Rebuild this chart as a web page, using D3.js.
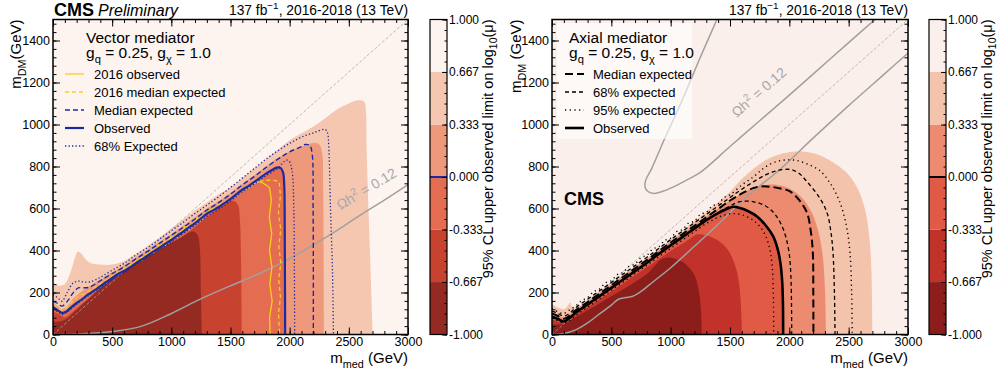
<!DOCTYPE html>
<html>
<head>
<meta charset="utf-8">
<script src="https://cdn.jsdelivr.net/npm/d3@7"></script>
<style>
body { margin: 0; background: #fff; }
</style>
</head>
<body>
<div id="chart"></div>
<script>
// ---- axis values ----
const medTicks = [0, 500, 1000, 1500, 2000, 2500, 3000];
const dmTicks = [0, 200, 400, 600, 800, 1000, 1200, 1400];
const zTicks = [-1, -0.667, -0.333, 0, 0.333, 0.667, 1];

// colour bins, lowest level first
const vecColors = ['#952a22', '#c8432f', '#e46c50', '#ef997c', '#f5c6b0', '#fdf4f0'];
const axColors = ['#8b1e1b', '#c1322b', '#e15a45', '#ed8b70', '#f3c3ab', '#fbefec'];

// ---- vector mediator: filled contour tops [m_med, m_DM] ----
const vecFill0667 = [[0,245],[50,232],[100,240],[150,300],[185,365],[210,395],[240,385],[280,355],[330,338],[400,333],[500,333],[600,350],[700,385],[800,422],[900,462],[1000,505],[1100,548],[1200,590],[1300,630],[1400,668],[1500,700],[1600,745],[1700,790],[1800,835],[1900,880],[2000,925],[2100,958],[2200,990],[2300,1030],[2400,1072],[2500,1100],[2580,1115],[2630,1108],[2645,1060],[2650,900],[2660,700],[2675,450],[2690,200],[2700,0]];
const vecFill0333 = [[0,150],[40,135],[75,122],[120,135],[170,170],[220,195],[300,228],[400,262],[500,298],[600,330],[700,368],[800,405],[900,442],[1000,478],[1100,518],[1200,558],[1300,600],[1400,636],[1500,675],[1600,718],[1700,758],[1800,800],[1900,840],[2000,872],[2100,895],[2200,912],[2250,905],[2275,860],[2283,700],[2287,400],[2290,0]];
const vecFillM0333 = [[0,108],[50,95],[100,82],[150,100],[200,125],[300,170],[400,210],[500,250],[600,282],[700,320],[800,358],[900,395],[1000,430],[1100,470],[1200,512],[1300,560],[1400,600],[1480,632],[1530,636],[1565,615],[1580,540],[1588,400],[1595,0]];
const vecFillM0667 = [[0,60],[50,62],[100,70],[200,118],[300,170],[400,222],[500,265],[600,300],[700,338],[800,375],[900,408],[1000,438],[1100,468],[1150,486],[1190,490],[1225,470],[1242,400],[1250,200],[1257,0]];

// ---- vector mediator: limit lines ----
const vecObs = [[0,132],[40,115],[75,103],[110,108],[150,128],[200,150],[250,170],[300,192],[350,210],[400,230],[450,250],[500,270],[550,288],[600,302],[650,320],[700,340],[750,357],[800,377],[850,396],[900,414],[950,432],[1000,450],[1050,470],[1100,490],[1150,510],[1200,530],[1250,552],[1300,575],[1350,590],[1400,607],[1450,626],[1500,646],[1550,668],[1600,690],[1650,706],[1700,726],[1750,746],[1800,766],[1850,783],[1890,795],[1925,792],[1945,770],[1955,700],[1958,550],[1960,300],[1962,0]];
const vecExp = [[0,158],[40,148],[75,135],[130,165],[170,198],[214,222],[260,222],[313,226],[400,256],[500,290],[600,322],[700,360],[800,396],[900,434],[1000,472],[1100,510],[1200,550],[1300,592],[1400,628],[1500,668],[1600,712],[1700,752],[1800,795],[1900,835],[2000,870],[2100,895],[2130,905],[2170,900],[2190,860],[2198,600],[2200,300],[2200,0]];
const vec68Up = [[0,190],[40,175],[75,158],[120,200],[170,245],[214,254],[260,250],[313,250],[400,272],[500,306],[600,338],[700,378],[800,414],[900,454],[1000,494],[1100,534],[1200,576],[1300,616],[1400,656],[1500,700],[1600,745],[1700,790],[1800,835],[1900,875],[2000,910],[2100,940],[2200,960],[2300,976],[2320,960],[2330,900],[2345,600],[2362,300],[2370,0]];
const vec68Dn = [[0,120],[40,108],[75,95],[150,120],[200,145],[300,185],[400,222],[500,262],[600,292],[700,332],[800,368],[900,405],[1000,440],[1100,480],[1200,520],[1300,562],[1400,596],[1500,636],[1600,680],[1700,716],[1800,756],[1900,792],[1970,830],[1995,826],[2020,780],[2035,600],[2040,300],[2042,0]];
const vec16Obs = [[0,125],[40,112],[80,100],[120,110],[160,135],[200,150],[250,168],[300,195],[350,205],[400,235],[450,245],[500,278],[550,285],[600,312],[650,318],[700,350],[750,352],[800,388],[850,390],[900,425],[950,425],[1000,462],[1050,462],[1100,502],[1150,500],[1200,540],[1250,545],[1300,585],[1350,588],[1400,612],[1450,622],[1500,650],[1550,662],[1600,690],[1650,698],[1700,720],[1740,728],[1770,722],[1800,712],[1830,700],[1845,640],[1828,560],[1848,480],[1830,400],[1850,320],[1832,240],[1852,160],[1830,80],[1835,0]];
const vec16Exp = [[0,140],[40,128],[80,115],[120,130],[170,160],[220,185],[270,195],[320,215],[370,230],[420,250],[470,265],[520,290],[570,300],[620,325],[670,335],[720,360],[770,372],[820,400],[870,410],[920,438],[970,445],[1020,478],[1070,485],[1120,515],[1170,522],[1220,555],[1270,562],[1320,595],[1370,602],[1420,625],[1470,637],[1520,662],[1570,675],[1620,700],[1670,712],[1720,726],[1790,734],[1860,735],[1912,728],[1922,660],[1905,580],[1925,500],[1908,420],[1925,340],[1908,260],[1922,180],[1906,100],[1915,0]];
const vecRelic = [[0,0],[250,3],[500,14],[750,40],[1000,100],[1240,167],[1500,232],[1665,271],[1800,305],[1960,349],[2150,410],[2370,485],[2600,570],[2800,640],[3000,714]];

// ---- axial mediator: filled contour tops ----
const axFill0667 = [[0,143],[50,128],[100,120],[130,135],[152,152],[175,128],[220,132],[300,165],[400,205],[500,245],[600,285],[700,325],[800,365],[900,407],[1000,450],[1100,495],[1200,540],[1300,585],[1400,630],[1500,680],[1600,740],[1700,790],[1800,830],[1900,855],[2000,868],[2115,872],[2250,855],[2380,815],[2500,760],[2580,690],[2640,590],[2675,460],[2692,300],[2700,0]];
const axFill0333 = [[0,105],[50,92],[100,80],[150,95],[200,118],[300,158],[400,198],[500,238],[600,278],[700,318],[800,358],[900,400],[1000,442],[1100,482],[1200,522],[1300,562],[1400,600],[1500,638],[1600,672],[1700,700],[1800,712],[1900,712],[2000,695],[2100,655],[2180,590],[2240,500],[2280,380],[2300,220],[2308,0]];
const axFillM0333 = [[0,72],[50,62],[100,55],[150,68],[200,92],[300,130],[400,168],[500,205],[600,243],[700,282],[800,320],[900,360],[1000,398],[1100,433],[1160,455],[1220,476],[1300,472],[1400,448],[1480,405],[1540,335],[1575,250],[1593,130],[1600,0]];
const axFillM0667 = [[0,48],[100,50],[200,82],[300,115],[400,148],[500,182],[600,215],[700,250],[800,288],[870,330],[920,358],[970,366],[1030,362],[1100,345],[1150,322],[1200,283],[1235,215],[1255,120],[1262,0]];

// ---- axial mediator: limit lines ----
const axObs = [[0,85],[50,74],[100,62],[150,80],[200,104],[300,143],[400,183],[500,222],[600,262],[700,302],[800,342],[900,384],[1000,425],[1100,465],[1200,505],[1300,545],[1400,578],[1480,600],[1530,608],[1584,602],[1650,588],[1728,562],[1800,520],[1864,467],[1900,410],[1925,340],[1940,250],[1946,150],[1948,0]];
const axExp = [[0,100],[50,88],[100,75],[150,90],[200,115],[300,155],[400,195],[500,235],[600,275],[700,315],[800,355],[900,397],[1000,438],[1100,478],[1200,518],[1300,558],[1400,598],[1500,638],[1600,672],[1700,698],[1760,705],[1850,703],[1950,692],[2005,682],[2080,642],[2148,581],[2180,495],[2198,390],[2202,200],[2203,0]];
const ax68Up = [[0,112],[50,100],[100,88],[150,102],[200,128],[300,168],[400,208],[500,248],[600,288],[700,328],[800,368],[900,410],[1000,452],[1100,492],[1200,532],[1300,572],[1400,612],[1500,652],[1600,692],[1700,728],[1800,760],[1900,780],[2005,786],[2080,768],[2148,728],[2250,655],[2317,581],[2350,490],[2368,390],[2380,200],[2385,0]];
const ax68Dn = [[0,88],[50,76],[100,64],[150,76],[200,100],[300,140],[400,180],[500,220],[600,260],[700,300],[800,340],[900,382],[1000,422],[1100,462],[1200,502],[1300,542],[1400,580],[1500,612],[1584,633],[1700,632],[1800,612],[1880,572],[1950,500],[1995,400],[2013,280],[2020,0]];
const ax95Up = [[0,125],[50,108],[100,100],[150,118],[200,136],[250,162],[300,176],[350,204],[400,216],[450,246],[500,256],[550,285],[600,296],[650,325],[700,336],[750,366],[800,378],[850,408],[900,418],[950,448],[1000,458],[1050,490],[1100,500],[1150,530],[1200,540],[1250,572],[1300,582],[1350,612],[1400,622],[1450,652],[1500,665],[1600,712],[1700,752],[1780,790],[1862,818],[1950,830],[2050,830],[2150,812],[2258,780],[2350,715],[2427,628],[2480,520],[2511,390],[2525,200],[2530,0]];
const ax95Dn = [[0,78],[50,65],[100,55],[150,66],[200,90],[300,130],[400,170],[500,210],[600,250],[700,290],[800,330],[900,370],[1000,410],[1100,450],[1200,490],[1300,528],[1400,558],[1500,575],[1600,570],[1700,542],[1780,492],[1830,420],[1855,330],[1865,200],[1868,0]];
const axRelicLow = [[0,0],[100,5],[200,22],[300,55],[400,98],[500,140],[560,168],[620,176],[680,182],[750,205],[850,250],[1000,318],[1200,420],[1400,525],[1584,628],[1700,685],[1921,786],[2200,935],[2500,1090],[2800,1240],[3000,1340]];
const axRelicUp = [[1390,1500],[1250,1320],[1100,1120],[935,914],[840,790],[790,735],[785,700],[810,680],[860,672],[950,685],[1050,710],[1150,740],[1250,772],[1500,895],[1750,1018],[2000,1140],[2250,1265],[2500,1390],[2722,1500]];

const FONT = '"Liberation Sans", Arial, Helvetica, sans-serif';
const BLUE = '#1c2a9e';
const YEL = '#f6cf1a';

const styles = {
  y16obs: {stroke: YEL, width: 1.3, dash: null},
  y16exp: {stroke: YEL, width: 1.3, dash: '4,3'},
  bexp:   {stroke: BLUE, width: 1.4, dash: '5,3'},
  bobs:   {stroke: BLUE, width: 2.2, dash: null},
  b68:    {stroke: BLUE, width: 1.3, dash: '1.3,2.2'},
  kexp:   {stroke: '#000', width: 2, dash: '8,4'},
  k68:    {stroke: '#000', width: 1.3, dash: '4,3'},
  k95:    {stroke: '#000', width: 1.4, dash: '1.2,3.5'},
  kobs:   {stroke: '#000', width: 2.6, dash: null}
};

const svg = d3.select('#chart').append('svg')
  .attr('width', 1000).attr('height', 374)
  .style('font-family', FONT);

// text with sub / superscript pieces
function rich(sel, parts, size) {
  let cur = 0;
  parts.forEach(([t, k]) => {
    let target = 0, fs = size;
    if (k === 'sub') { target = size * 0.3; fs = size * 0.72; }
    if (k === 'sup') { target = -size * 0.4; fs = size * 0.72; }
    sel.append('tspan').attr('dy', target - cur).attr('font-size', fs).text(t);
    cur = target;
  });
}

function drawPanel(p) {
  const x = d3.scaleLinear().domain([0, 3000]).range([p.x0, p.x1]);
  const y = d3.scaleLinear().domain([0, 1500]).range([334.5, 19.5]);
  const z = d3.scaleLinear().domain([-1, 1]).range([334.5, 19.5]);
  const g = svg.append('g');

  svg.append('clipPath').attr('id', 'clip' + p.id).append('rect')
    .attr('x', p.x0).attr('y', y(1500)).attr('width', p.x1 - p.x0).attr('height', y(0) - y(1500));
  const plot = g.append('g').attr('clip-path', `url(#clip${p.id})`);

  const smooth = d3.line().x(d => x(d[0])).y(d => y(d[1])).curve(d3.curveCatmullRom.alpha(0.5));
  const straight = d3.line().x(d => x(d[0])).y(d => y(d[1]));

  plot.append('rect').attr('x', p.x0).attr('y', y(1500))
    .attr('width', p.x1 - p.x0).attr('height', y(0) - y(1500)).attr('fill', p.colors[5]);

  // filled levels, lightest first
  p.fills.forEach(([pts, ci]) => {
    const ext = [[-100, pts[0][1]], ...pts, [pts[pts.length - 1][0], -100]];
    plot.append('path')
      .attr('d', smooth(ext) + `L${x(-100)},${y(-100)}Z`)
      .attr('fill', p.colors[ci]);
  });

  // diagonal m_DM = m_med / 2
  plot.append('path').attr('d', straight([[0, 0], [3000, 1500]]))
    .attr('stroke', '#a8a8a8').attr('stroke-width', 0.8).attr('stroke-dasharray', '3,2').attr('fill', 'none');

  // relic lines
  p.relic.forEach(r => {
    plot.append('path').attr('d', smooth(r)).attr('fill', 'none')
      .attr('stroke', '#a0a0a0').attr('stroke-width', 1.5);
  });

  // limit lines
  p.lines.forEach(([pts, key, curved]) => {
    const s = styles[key];
    plot.append('path').attr('d', (curved ? smooth : straight)(pts)).attr('fill', 'none')
      .attr('stroke', s.stroke).attr('stroke-width', s.width)
      .attr('stroke-dasharray', s.dash);
  });

  // relic label
  const rl = plot.append('text')
    .attr('transform', `translate(${p.relicLabel[0]},${p.relicLabel[1]}) rotate(${p.relicLabel[2]})`)
    .attr('text-anchor', 'middle').attr('fill', '#a8a8a8').attr('font-size', 14);
  rich(rl, [['Ωh', null], ['2', 'sup'], [' = 0.12', null]], 14);

  // legend
  if (p.legendBox) {
    g.append('rect').attr('x', p.legendBox[0]).attr('y', p.legendBox[1])
      .attr('width', p.legendBox[2]).attr('height', p.legendBox[3])
      .attr('fill', '#ffffff').attr('opacity', 0.6);
  }
  g.append('text').attr('x', p.legX).attr('y', 43).attr('font-size', 15.5).text(p.title);
  const gl = g.append('text').attr('x', p.legX).attr('y', 58).attr('font-size', 15.5);
  rich(gl, [['g', null], ['q', 'sub'], [' = 0.25, g', null], ['χ', 'sub'], [' = 1.0', null]], 15.5);
  p.legend.forEach(([label, key], i) => {
    const yy = 74 + i * 18;
    const s = styles[key];
    g.append('line').attr('x1', p.legLineX).attr('x2', p.legLineX + 19).attr('y1', yy).attr('y2', yy)
      .attr('stroke', s.stroke).attr('stroke-width', s.width).attr('stroke-dasharray', s.dash);
    g.append('text').attr('x', p.legTextX).attr('y', yy + 4.5).attr('font-size', 13).text(label);
  });

  // axes with inward ticks
  const axisStyle = sel => sel.call(s => s.select('.domain').remove())
    .attr('font-size', 12.5).attr('font-family', FONT);
  g.append('g').attr('transform', `translate(0,${y(0)})`)
    .call(d3.axisBottom(x).tickValues(d3.range(0, 3001, 100)).tickSize(-3.5).tickFormat(''))
    .call(axisStyle);
  g.append('g').attr('transform', `translate(0,${y(0)})`)
    .call(d3.axisBottom(x).tickValues(medTicks).tickSize(-7).tickPadding(3).tickFormat(d3.format('d')))
    .call(axisStyle);
  g.append('g').attr('transform', `translate(0,${y(1500)})`)
    .call(d3.axisTop(x).tickValues(d3.range(0, 3001, 100)).tickSize(-3.5).tickFormat(''))
    .call(axisStyle);
  g.append('g').attr('transform', `translate(0,${y(1500)})`)
    .call(d3.axisTop(x).tickValues(medTicks).tickSize(-7).tickFormat(''))
    .call(axisStyle);
  g.append('g').attr('transform', `translate(${p.x0},0)`)
    .call(d3.axisLeft(y).tickValues(d3.range(0, 1501, 40)).tickSize(-3.5).tickFormat(''))
    .call(axisStyle);
  g.append('g').attr('transform', `translate(${p.x0},0)`)
    .call(d3.axisLeft(y).tickValues(dmTicks).tickSize(-7).tickPadding(3).tickFormat(d3.format('d')))
    .call(axisStyle);
  g.append('g').attr('transform', `translate(${p.x1},0)`)
    .call(d3.axisRight(y).tickValues(d3.range(0, 1501, 40)).tickSize(-3.5).tickFormat(''))
    .call(axisStyle);
  g.append('g').attr('transform', `translate(${p.x1},0)`)
    .call(d3.axisRight(y).tickValues(dmTicks).tickSize(-7).tickFormat(''))
    .call(axisStyle);

  g.append('rect').attr('x', p.x0).attr('y', y(1500)).attr('width', p.x1 - p.x0)
    .attr('height', y(0) - y(1500)).attr('fill', 'none').attr('stroke', '#000').attr('stroke-width', 1.5);

  // axis titles
  const xt = g.append('text').attr('x', p.x1).attr('y', 363).attr('text-anchor', 'end').attr('font-size', 15);
  rich(xt, [['m', null], ['med', 'sub'], [' (GeV)', null]], 15);
  const yt = g.append('text').attr('transform', `translate(${p.yTitleX},${y(1500)}) rotate(-90)`)
    .attr('text-anchor', 'end').attr('font-size', 15);
  rich(yt, [['m', null], ['DM', 'sub'], [p.yTitleGap + '(GeV)', null]], 15);

  // colour bar
  const cb = g.append('g');
  for (let i = 0; i < 6; i++) {
    cb.append('rect').attr('x', p.cb0).attr('width', p.cb1 - p.cb0)
      .attr('y', z(zTicks[i + 1])).attr('height', z(zTicks[i]) - z(zTicks[i + 1]))
      .attr('fill', p.colors[i]);
  }
  cb.append('line').attr('x1', p.cb0).attr('x2', p.cb1).attr('y1', z(0)).attr('y2', z(0))
    .attr('stroke', p.obsColor).attr('stroke-width', 2);
  cb.append('g').attr('transform', `translate(${p.cb1},0)`)
    .call(d3.axisRight(z).tickValues(d3.range(-1, 1.0001, 2 / 30)).tickSize(-2.5).tickFormat(''))
    .call(axisStyle);
  cb.append('g').attr('transform', `translate(${p.cb1},0)`)
    .call(d3.axisRight(z).tickValues(zTicks).tickSize(-5).tickPadding(2).tickFormat(d => d.toFixed(3)))
    .call(axisStyle).attr('font-size', 12);
  cb.append('rect').attr('x', p.cb0).attr('y', z(1)).attr('width', p.cb1 - p.cb0)
    .attr('height', z(-1) - z(1)).attr('fill', 'none').attr('stroke', '#000').attr('stroke-width', 1.2);
  const ct = g.append('text').attr('transform', `translate(${p.cb1 + 46},${z(1)}) rotate(-90)`)
    .attr('text-anchor', 'end').attr('font-size', 14.5);
  rich(ct, [['95% CL upper observed limit on log', null], ['10', 'sub'], ['(μ)', null]], 14.5);

  // header
  const hd = g.append('text').attr('x', p.x1).attr('y', 15).attr('text-anchor', 'end').attr('font-size', 13.8);
  rich(hd, [['137 fb', null], ['−1', 'sup'], [', 2016-2018 (13 TeV)', null]], 13.8);
}

drawPanel({
  id: 'vec', x0: 53, x1: 408, cb0: 430, cb1: 447, colors: vecColors, obsColor: BLUE,
  fills: [[vecFill0667, 4], [vecFill0333, 3], [vecObs, 2], [vecFillM0333, 1], [vecFillM0667, 0]],
  relic: [vecRelic],
  relicLabel: [369, 193, -31],
  lines: [[vec16Exp, 'y16exp', false], [vec16Obs, 'y16obs', false], [vec68Up, 'b68', true],
          [vec68Dn, 'b68', true], [vecExp, 'bexp', true], [vecObs, 'bobs', true]],
  title: 'Vector mediator', legX: 86, legLineX: 65, legTextX: 94, legendBox: null,
  legend: [['2016 observed', 'y16obs'], ['2016 median expected', 'y16exp'],
           ['Median expected', 'bexp'], ['Observed', 'bobs'], ['68% Expected', 'b68']],
  yTitleX: 21, yTitleGap: ''
});

drawPanel({
  id: 'ax', x0: 552, x1: 908, cb0: 929, cb1: 946, colors: axColors, obsColor: '#000',
  fills: [[axFill0667, 4], [axFill0333, 3], [axObs, 2], [axFillM0333, 1], [axFillM0667, 0]],
  relic: [axRelicLow, axRelicUp],
  relicLabel: [762, 96, -41],
  lines: [[ax95Up, 'k95', true], [ax95Dn, 'k95', true], [ax68Up, 'k68', true],
          [ax68Dn, 'k68', true], [axExp, 'kexp', true], [axObs, 'kobs', true]],
  title: 'Axial mediator', legX: 569, legLineX: 565, legTextX: 593, legendBox: [557, 23, 135, 116],
  legend: [['Median expected', 'kexp'], ['68% expected', 'k68'], ['95% expected', 'k95'], ['Observed', 'kobs']],
  yTitleX: 521, yTitleGap: ' '
});

// experiment labels
svg.append('text').attr('x', 54).attr('y', 16).attr('font-size', 18).attr('font-weight', 'bold').text('CMS');
svg.append('text').attr('x', 98).attr('y', 16).attr('font-size', 16).attr('font-style', 'italic').text('Preliminary');
svg.append('text').attr('x', 564).attr('y', 205).attr('font-size', 18).attr('font-weight', 'bold').text('CMS');
</script>
</body>
</html>
